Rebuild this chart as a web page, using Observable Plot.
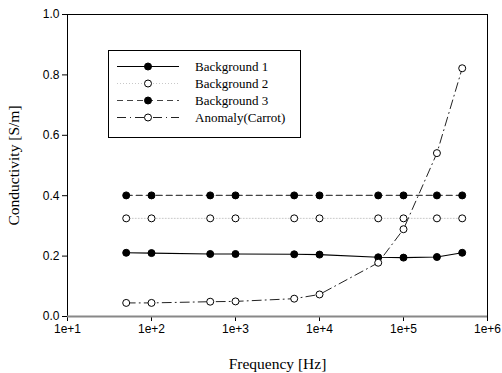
<!DOCTYPE html>
<html><head><meta charset="utf-8">
<script src="https://cdn.jsdelivr.net/npm/d3@7"></script>
<script src="https://cdn.jsdelivr.net/npm/@observablehq/plot@0.6"></script>
<style>
body{margin:0;background:#fff;}
#wrap{position:relative;width:502px;height:373px;}
#legend{position:absolute;left:0;top:0;}
</style>
</head><body>
<div id="wrap"></div>
<script>
const freqs = [50, 100, 500, 1000, 5000, 10000, 50000, 100000, 250000, 500000];
const background1 = [0.211, 0.210, 0.207, 0.207, 0.206, 0.205, 0.196, 0.195, 0.197, 0.211];
const background2 = [0.325, 0.325, 0.325, 0.325, 0.325, 0.325, 0.325, 0.325, 0.325, 0.325];
const background3 = [0.401, 0.401, 0.401, 0.401, 0.401, 0.401, 0.401, 0.401, 0.401, 0.401];
const anomaly = [0.045, 0.045, 0.049, 0.050, 0.059, 0.073, 0.178, 0.289, 0.541, 0.822];
const xTicks = [1e1, 1e2, 1e3, 1e4, 1e5, 1e6];
const xTickLabels = ["1e+1", "1e+2", "1e+3", "1e+4", "1e+5", "1e+6"];
const yTicks = [0, 0.2, 0.4, 0.6, 0.8, 1.0];
const seriesNames = ["Background 1", "Background 2", "Background 3", "Anomaly(Carrot)"];
const xTitle = "Frequency [Hz]";
const yTitle = "Conductivity [S/m]";

const styles = [
  {stroke:"#000", dash:null, width:1.1, fill:"#000"},
  {stroke:"#c8c8c8", dash:"1,2", width:1, fill:"#fff"},
  {stroke:"#444", dash:"6,4", width:1.2, fill:"#000"},
  {stroke:"#222", dash:"9,4,1,4", width:1, fill:"#fff"}
];
const seriesVals = [background1, background2, background3, anomaly];
const data = seriesVals.map((vals, s) => freqs.map((f, i) => ({f, v: vals[i], s})));

const marks = [
  Plot.frame({stroke:"#000", strokeWidth:1}),
  Plot.axisX({ticks: xTicks, tickFormat: d => xTickLabels[xTicks.indexOf(d)], tickSize:5, tickPadding:3,
    fontSize:12, label:xTitle, labelArrow:"none", labelAnchor:"center", labelOffset:52}),
  Plot.axisY({ticks: yTicks, tickFormat: d => d.toFixed(1), tickSize:5, tickPadding:3,
    fontSize:12, label:yTitle, labelArrow:"none", labelAnchor:"center", labelOffset:60}),
  Plot.ruleY([0], {stroke:"#888", strokeWidth:2}),
];
data.forEach((d, s) => {
  marks.push(Plot.line(d, {x:"f", y:"v", stroke: styles[s].stroke, strokeWidth: styles[s].width, strokeDasharray: styles[s].dash}));
});
data.forEach((d, s) => {
  marks.push(Plot.dot(d, {x:"f", y:"v", r:3.5, fill: styles[s].fill, stroke:"#000", strokeWidth:1}));
});

const chart = Plot.plot({
  width:502, height:373,
  marginLeft:67, marginRight:15, marginTop:14, marginBottom:57,
  x:{type:"log", domain:[10, 1e6]},
  y:{domain:[0, 1]},
  style:{background:"#fff", color:"#000", overflow:"visible", fontFamily:"Liberation Sans, Arial, sans-serif"},
  marks
});
document.getElementById("wrap").appendChild(chart);

// axis titles: serif font, no arrows
d3.select(chart).selectAll('g[aria-label="x-axis label"], g[aria-label="y-axis label"]')
  .attr("font-size", 15.5).style("font-size", "15.5px")
  .style("font-family", "Liberation Serif, Times New Roman, serif");
d3.select(chart).selectAll('g[aria-label="x-axis label"] text, g[aria-label="y-axis label"] text')
  .each(function(){
    const t = d3.select(this);
    t.text(t.text().replace(/[\u2190-\u2193]/g, "").trim());
  })
  .attr("font-size", 15.5)
  .style("font-family", "Liberation Serif, Times New Roman, serif")
  .style("font-size", "15.5px");

// Legend overlay
const lg = d3.select("#wrap").append("svg").attr("id","legend").attr("width",502).attr("height",373);
lg.append("rect").attr("x",108.5).attr("y",50.5).attr("width",192).attr("height",87).attr("fill","#fff").attr("stroke","#000");
seriesNames.forEach((name, s) => {
  const y = 66.5 + s*17;
  lg.append("line").attr("x1",117).attr("x2",179).attr("y1",y).attr("y2",y)
    .attr("stroke",styles[s].stroke).attr("stroke-width",styles[s].width).attr("stroke-dasharray",styles[s].dash);
  lg.append("circle").attr("cx",148).attr("cy",y).attr("r",3.5).attr("fill",styles[s].fill).attr("stroke","#000");
  lg.append("text").attr("x",195).attr("y",y+4.5).text(name)
    .attr("font-family","Liberation Serif, Times New Roman, serif").attr("font-size",13);
});
</script>
</body></html>
